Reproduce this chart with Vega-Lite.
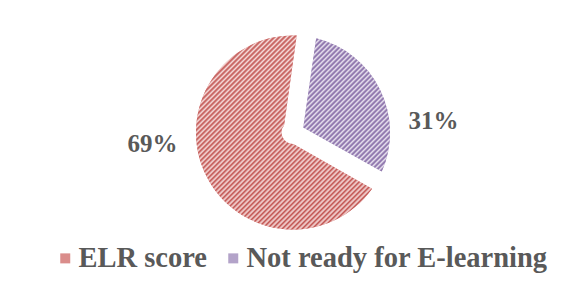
{
  "$schema": "https://vega.github.io/schema/vega-lite/v6.json",
  "width": 586,
  "height": 265,
  "autosize": "none",
  "padding": {"left": 0, "top": 0, "right": 0, "bottom": 28},
  "background": "white",
  "config": {"view": {"stroke": null}},
  "data": {"values": [
    {"cat": "ELR score", "value": 69, "label": "69%"},
    {"cat": "Not ready for E-learning", "value": 31, "label": "31%"}
  ]},
  "encoding": {
    "theta": {"field": "value", "type": "quantitative", "stack": true, "scale": {"range": [2.0874, 8.3706]}},
    "order": {"field": "value", "type": "quantitative", "sort": "descending"}
  },
  "layer": [
    {
      "mark": {"type": "arc", "outerRadius": 97, "innerRadius": 11.5, "padAngle": 0.202},
      "encoding": {
        "color": {
          "field": "cat", "type": "nominal",
          "scale": {"domain": ["ELR score", "Not ready for E-learning"], "range": ["#da8d8b", "#b3a3c9"]},
          "legend": {
            "orient": "none", "legendX": 51, "legendY": 244, "direction": "horizontal", "title": null,
            "symbolType": "square", "symbolSize": 100, "symbolStrokeWidth": 0,
            "labelFont": "Liberation Serif", "labelFontWeight": "bold", "labelFontSize": 28.5,
            "labelColor": "#595959", "labelOffset": -1, "columnPadding": 11, "padding": 0, "labelLimit": 0
          }
        }
      }
    },
    {
      "mark": {"type": "arc", "outerRadius": 97, "innerRadius": 11.5, "padAngle": 0.202},
      "encoding": {
        "detail": {"field": "cat", "type": "nominal"},
        "fill": {
          "condition": {
            "test": "datum.cat === 'ELR score'",
            "value": {"gradient": "linear", "x1": 0, "y1": 0, "x2": 0.896, "y2": 0.989, "stops": [
              {"offset": 0, "color": "#c0504d"}, {"offset": 0.00714, "color": "#f6dcdb"}, {"offset": 0.01429, "color": "#c0504d"}, {"offset": 0.02143, "color": "#f6dcdb"}, {"offset": 0.02857, "color": "#c0504d"}, {"offset": 0.03571, "color": "#f6dcdb"}, {"offset": 0.04286, "color": "#c0504d"},
              {"offset": 0.05, "color": "#f6dcdb"}, {"offset": 0.05714, "color": "#c0504d"}, {"offset": 0.06429, "color": "#f6dcdb"}, {"offset": 0.07143, "color": "#c0504d"}, {"offset": 0.07857, "color": "#f6dcdb"}, {"offset": 0.08571, "color": "#c0504d"}, {"offset": 0.09286, "color": "#f6dcdb"},
              {"offset": 0.1, "color": "#c0504d"}, {"offset": 0.10714, "color": "#f6dcdb"}, {"offset": 0.11429, "color": "#c0504d"}, {"offset": 0.12143, "color": "#f6dcdb"}, {"offset": 0.12857, "color": "#c0504d"}, {"offset": 0.13571, "color": "#f6dcdb"}, {"offset": 0.14286, "color": "#c0504d"},
              {"offset": 0.15, "color": "#f6dcdb"}, {"offset": 0.15714, "color": "#c0504d"}, {"offset": 0.16429, "color": "#f6dcdb"}, {"offset": 0.17143, "color": "#c0504d"}, {"offset": 0.17857, "color": "#f6dcdb"}, {"offset": 0.18571, "color": "#c0504d"}, {"offset": 0.19286, "color": "#f6dcdb"},
              {"offset": 0.2, "color": "#c0504d"}, {"offset": 0.20714, "color": "#f6dcdb"}, {"offset": 0.21429, "color": "#c0504d"}, {"offset": 0.22143, "color": "#f6dcdb"}, {"offset": 0.22857, "color": "#c0504d"}, {"offset": 0.23571, "color": "#f6dcdb"}, {"offset": 0.24286, "color": "#c0504d"},
              {"offset": 0.25, "color": "#f6dcdb"}, {"offset": 0.25714, "color": "#c0504d"}, {"offset": 0.26429, "color": "#f6dcdb"}, {"offset": 0.27143, "color": "#c0504d"}, {"offset": 0.27857, "color": "#f6dcdb"}, {"offset": 0.28571, "color": "#c0504d"}, {"offset": 0.29286, "color": "#f6dcdb"},
              {"offset": 0.3, "color": "#c0504d"}, {"offset": 0.30714, "color": "#f6dcdb"}, {"offset": 0.31429, "color": "#c0504d"}, {"offset": 0.32143, "color": "#f6dcdb"}, {"offset": 0.32857, "color": "#c0504d"}, {"offset": 0.33571, "color": "#f6dcdb"}, {"offset": 0.34286, "color": "#c0504d"},
              {"offset": 0.35, "color": "#f6dcdb"}, {"offset": 0.35714, "color": "#c0504d"}, {"offset": 0.36429, "color": "#f6dcdb"}, {"offset": 0.37143, "color": "#c0504d"}, {"offset": 0.37857, "color": "#f6dcdb"}, {"offset": 0.38571, "color": "#c0504d"}, {"offset": 0.39286, "color": "#f6dcdb"},
              {"offset": 0.4, "color": "#c0504d"}, {"offset": 0.40714, "color": "#f6dcdb"}, {"offset": 0.41429, "color": "#c0504d"}, {"offset": 0.42143, "color": "#f6dcdb"}, {"offset": 0.42857, "color": "#c0504d"}, {"offset": 0.43571, "color": "#f6dcdb"}, {"offset": 0.44286, "color": "#c0504d"},
              {"offset": 0.45, "color": "#f6dcdb"}, {"offset": 0.45714, "color": "#c0504d"}, {"offset": 0.46429, "color": "#f6dcdb"}, {"offset": 0.47143, "color": "#c0504d"}, {"offset": 0.47857, "color": "#f6dcdb"}, {"offset": 0.48571, "color": "#c0504d"}, {"offset": 0.49286, "color": "#f6dcdb"},
              {"offset": 0.5, "color": "#c0504d"}, {"offset": 0.50714, "color": "#f6dcdb"}, {"offset": 0.51429, "color": "#c0504d"}, {"offset": 0.52143, "color": "#f6dcdb"}, {"offset": 0.52857, "color": "#c0504d"}, {"offset": 0.53571, "color": "#f6dcdb"}, {"offset": 0.54286, "color": "#c0504d"},
              {"offset": 0.55, "color": "#f6dcdb"}, {"offset": 0.55714, "color": "#c0504d"}, {"offset": 0.56429, "color": "#f6dcdb"}, {"offset": 0.57143, "color": "#c0504d"}, {"offset": 0.57857, "color": "#f6dcdb"}, {"offset": 0.58571, "color": "#c0504d"}, {"offset": 0.59286, "color": "#f6dcdb"},
              {"offset": 0.6, "color": "#c0504d"}, {"offset": 0.60714, "color": "#f6dcdb"}, {"offset": 0.61429, "color": "#c0504d"}, {"offset": 0.62143, "color": "#f6dcdb"}, {"offset": 0.62857, "color": "#c0504d"}, {"offset": 0.63571, "color": "#f6dcdb"}, {"offset": 0.64286, "color": "#c0504d"},
              {"offset": 0.65, "color": "#f6dcdb"}, {"offset": 0.65714, "color": "#c0504d"}, {"offset": 0.66429, "color": "#f6dcdb"}, {"offset": 0.67143, "color": "#c0504d"}, {"offset": 0.67857, "color": "#f6dcdb"}, {"offset": 0.68571, "color": "#c0504d"}, {"offset": 0.69286, "color": "#f6dcdb"},
              {"offset": 0.7, "color": "#c0504d"}, {"offset": 0.70714, "color": "#f6dcdb"}, {"offset": 0.71429, "color": "#c0504d"}, {"offset": 0.72143, "color": "#f6dcdb"}, {"offset": 0.72857, "color": "#c0504d"}, {"offset": 0.73571, "color": "#f6dcdb"}, {"offset": 0.74286, "color": "#c0504d"},
              {"offset": 0.75, "color": "#f6dcdb"}, {"offset": 0.75714, "color": "#c0504d"}, {"offset": 0.76429, "color": "#f6dcdb"}, {"offset": 0.77143, "color": "#c0504d"}, {"offset": 0.77857, "color": "#f6dcdb"}, {"offset": 0.78571, "color": "#c0504d"}, {"offset": 0.79286, "color": "#f6dcdb"},
              {"offset": 0.8, "color": "#c0504d"}, {"offset": 0.80714, "color": "#f6dcdb"}, {"offset": 0.81429, "color": "#c0504d"}, {"offset": 0.82143, "color": "#f6dcdb"}, {"offset": 0.82857, "color": "#c0504d"}, {"offset": 0.83571, "color": "#f6dcdb"}, {"offset": 0.84286, "color": "#c0504d"},
              {"offset": 0.85, "color": "#f6dcdb"}, {"offset": 0.85714, "color": "#c0504d"}, {"offset": 0.86429, "color": "#f6dcdb"}, {"offset": 0.87143, "color": "#c0504d"}, {"offset": 0.87857, "color": "#f6dcdb"}, {"offset": 0.88571, "color": "#c0504d"}, {"offset": 0.89286, "color": "#f6dcdb"},
              {"offset": 0.9, "color": "#c0504d"}, {"offset": 0.90714, "color": "#f6dcdb"}, {"offset": 0.91429, "color": "#c0504d"}, {"offset": 0.92143, "color": "#f6dcdb"}, {"offset": 0.92857, "color": "#c0504d"}, {"offset": 0.93571, "color": "#f6dcdb"}, {"offset": 0.94286, "color": "#c0504d"},
              {"offset": 0.95, "color": "#f6dcdb"}, {"offset": 0.95714, "color": "#c0504d"}, {"offset": 0.96429, "color": "#f6dcdb"}, {"offset": 0.97143, "color": "#c0504d"}, {"offset": 0.97857, "color": "#f6dcdb"}, {"offset": 0.98571, "color": "#c0504d"}, {"offset": 0.99286, "color": "#f6dcdb"}
            ]}
          },
          "value": {"gradient": "linear", "x1": 0, "y1": 0, "x2": 0.857, "y2": 1.318, "stops": [
            {"offset": 0, "color": "#8064a2"}, {"offset": 0.01, "color": "#e8e2ef"}, {"offset": 0.02, "color": "#8064a2"}, {"offset": 0.03, "color": "#e8e2ef"}, {"offset": 0.04, "color": "#8064a2"}, {"offset": 0.05, "color": "#e8e2ef"}, {"offset": 0.06, "color": "#8064a2"}, {"offset": 0.07, "color": "#e8e2ef"}, {"offset": 0.08, "color": "#8064a2"}, {"offset": 0.09, "color": "#e8e2ef"},
            {"offset": 0.1, "color": "#8064a2"}, {"offset": 0.11, "color": "#e8e2ef"}, {"offset": 0.12, "color": "#8064a2"}, {"offset": 0.13, "color": "#e8e2ef"}, {"offset": 0.14, "color": "#8064a2"}, {"offset": 0.15, "color": "#e8e2ef"}, {"offset": 0.16, "color": "#8064a2"}, {"offset": 0.17, "color": "#e8e2ef"}, {"offset": 0.18, "color": "#8064a2"}, {"offset": 0.19, "color": "#e8e2ef"},
            {"offset": 0.2, "color": "#8064a2"}, {"offset": 0.21, "color": "#e8e2ef"}, {"offset": 0.22, "color": "#8064a2"}, {"offset": 0.23, "color": "#e8e2ef"}, {"offset": 0.24, "color": "#8064a2"}, {"offset": 0.25, "color": "#e8e2ef"}, {"offset": 0.26, "color": "#8064a2"}, {"offset": 0.27, "color": "#e8e2ef"}, {"offset": 0.28, "color": "#8064a2"}, {"offset": 0.29, "color": "#e8e2ef"},
            {"offset": 0.3, "color": "#8064a2"}, {"offset": 0.31, "color": "#e8e2ef"}, {"offset": 0.32, "color": "#8064a2"}, {"offset": 0.33, "color": "#e8e2ef"}, {"offset": 0.34, "color": "#8064a2"}, {"offset": 0.35, "color": "#e8e2ef"}, {"offset": 0.36, "color": "#8064a2"}, {"offset": 0.37, "color": "#e8e2ef"}, {"offset": 0.38, "color": "#8064a2"}, {"offset": 0.39, "color": "#e8e2ef"},
            {"offset": 0.4, "color": "#8064a2"}, {"offset": 0.41, "color": "#e8e2ef"}, {"offset": 0.42, "color": "#8064a2"}, {"offset": 0.43, "color": "#e8e2ef"}, {"offset": 0.44, "color": "#8064a2"}, {"offset": 0.45, "color": "#e8e2ef"}, {"offset": 0.46, "color": "#8064a2"}, {"offset": 0.47, "color": "#e8e2ef"}, {"offset": 0.48, "color": "#8064a2"}, {"offset": 0.49, "color": "#e8e2ef"},
            {"offset": 0.5, "color": "#8064a2"}, {"offset": 0.51, "color": "#e8e2ef"}, {"offset": 0.52, "color": "#8064a2"}, {"offset": 0.53, "color": "#e8e2ef"}, {"offset": 0.54, "color": "#8064a2"}, {"offset": 0.55, "color": "#e8e2ef"}, {"offset": 0.56, "color": "#8064a2"}, {"offset": 0.57, "color": "#e8e2ef"}, {"offset": 0.58, "color": "#8064a2"}, {"offset": 0.59, "color": "#e8e2ef"},
            {"offset": 0.6, "color": "#8064a2"}, {"offset": 0.61, "color": "#e8e2ef"}, {"offset": 0.62, "color": "#8064a2"}, {"offset": 0.63, "color": "#e8e2ef"}, {"offset": 0.64, "color": "#8064a2"}, {"offset": 0.65, "color": "#e8e2ef"}, {"offset": 0.66, "color": "#8064a2"}, {"offset": 0.67, "color": "#e8e2ef"}, {"offset": 0.68, "color": "#8064a2"}, {"offset": 0.69, "color": "#e8e2ef"},
            {"offset": 0.7, "color": "#8064a2"}, {"offset": 0.71, "color": "#e8e2ef"}, {"offset": 0.72, "color": "#8064a2"}, {"offset": 0.73, "color": "#e8e2ef"}, {"offset": 0.74, "color": "#8064a2"}, {"offset": 0.75, "color": "#e8e2ef"}, {"offset": 0.76, "color": "#8064a2"}, {"offset": 0.77, "color": "#e8e2ef"}, {"offset": 0.78, "color": "#8064a2"}, {"offset": 0.79, "color": "#e8e2ef"},
            {"offset": 0.8, "color": "#8064a2"}, {"offset": 0.81, "color": "#e8e2ef"}, {"offset": 0.82, "color": "#8064a2"}, {"offset": 0.83, "color": "#e8e2ef"}, {"offset": 0.84, "color": "#8064a2"}, {"offset": 0.85, "color": "#e8e2ef"}, {"offset": 0.86, "color": "#8064a2"}, {"offset": 0.87, "color": "#e8e2ef"}, {"offset": 0.88, "color": "#8064a2"}, {"offset": 0.89, "color": "#e8e2ef"}
          ]}
        }
      }
    },
    {
      "mark": {"type": "text", "radius": 141, "thetaOffset": 0.377, "font": "Liberation Serif", "fontWeight": "bold", "fontSize": 25, "fill": "#595959", "align": "center", "baseline": "middle"},
      "encoding": {
        "detail": {"field": "cat", "type": "nominal"},
        "text": {"field": "label", "type": "nominal"}
      }
    }
  ]
}
